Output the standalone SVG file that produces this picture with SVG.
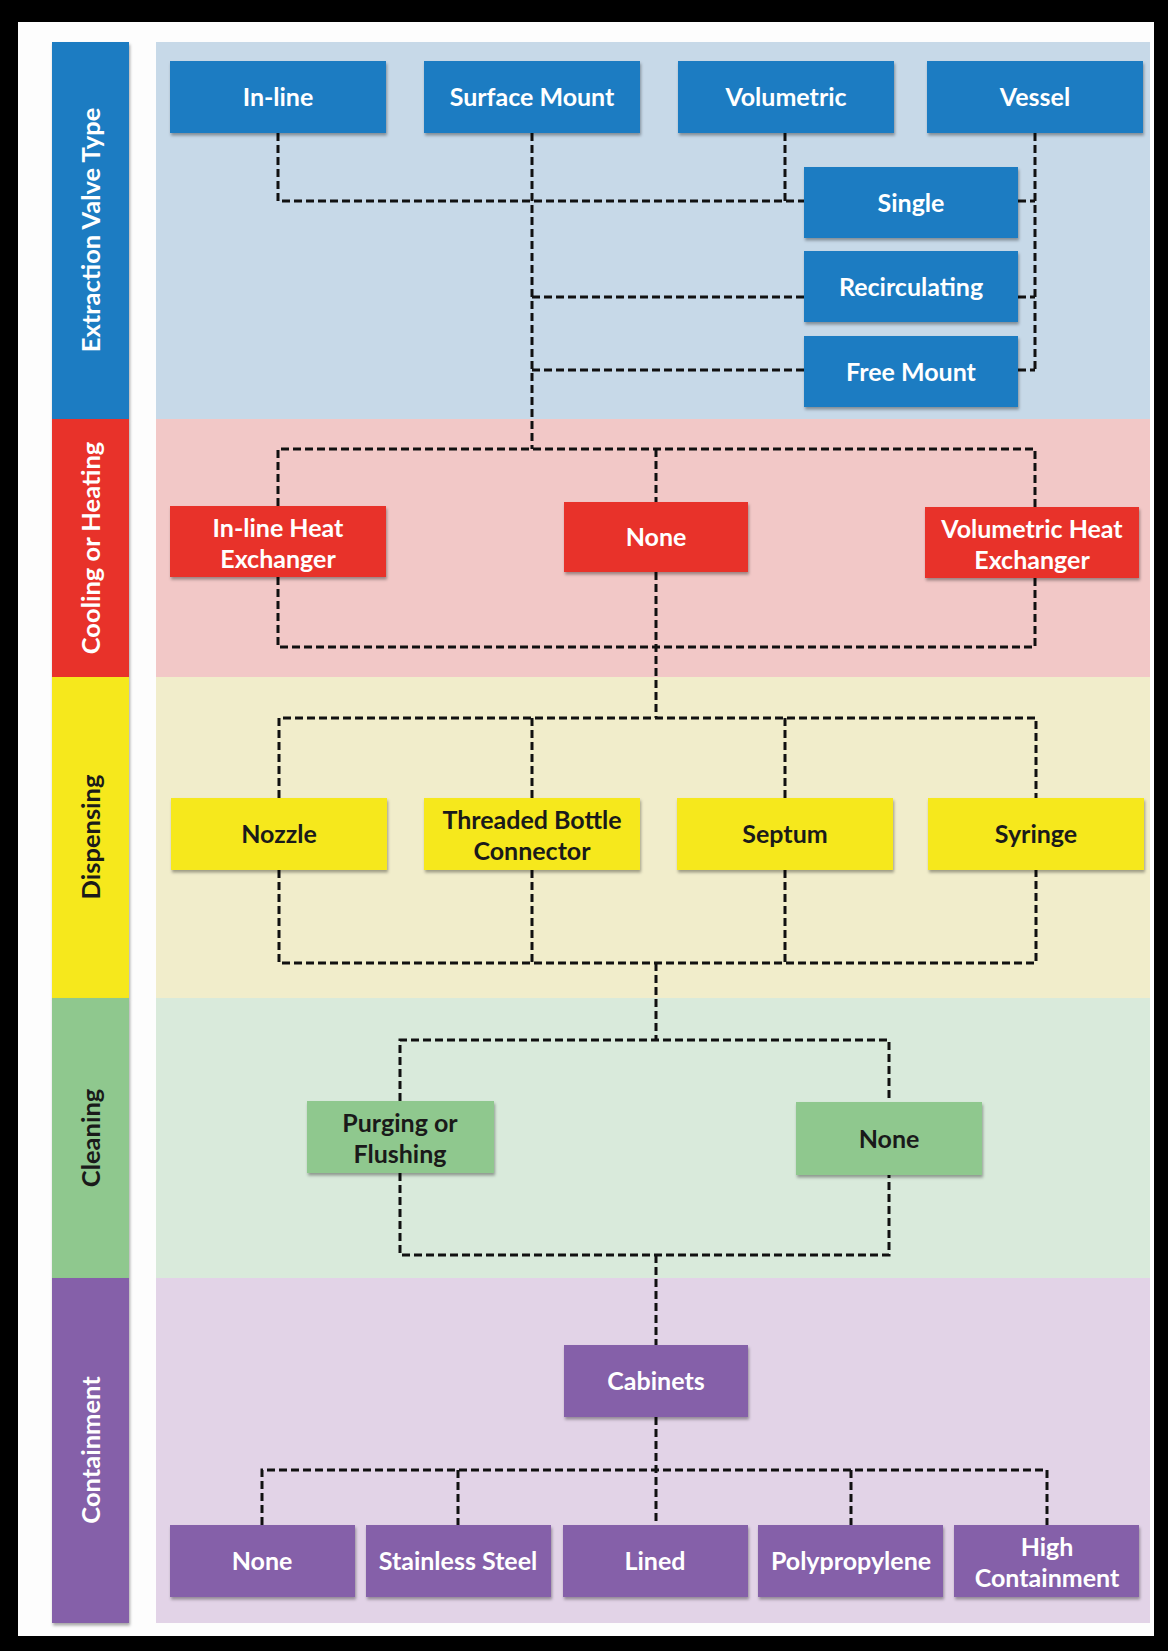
<svg xmlns="http://www.w3.org/2000/svg" width="1168" height="1651" viewBox="0 0 1168 1651">
<defs>
<filter id="sh" x="-10%" y="-10%" width="120%" height="130%">
<feDropShadow dx="1" dy="2.5" stdDeviation="1.5" flood-color="#000" flood-opacity="0.35"/>
</filter>
<style>
.t{font-family:Lato,"Open Sans","Liberation Sans",sans-serif;font-weight:700;font-size:25px;text-anchor:middle}
.lt{font-family:Lato,"Open Sans","Liberation Sans",sans-serif;font-weight:700;font-size:25.5px;text-anchor:middle}
.w{fill:#ffffff}
.k{fill:#1a1a1a}
.bl{fill:#1b7bc2}
.rd{fill:#e8332b}
.yl{fill:#f6e81a}
.gr{fill:#8fc88e}
.pu{fill:#8560a9}
.node rect{filter:url(#sh)}
.conn path{fill:none;stroke:#111;stroke-width:3;stroke-dasharray:8 4}
</style>
</defs>
<rect x="0" y="0" width="1168" height="1651" fill="#000"/>
<rect x="18" y="22" width="1136" height="1614" fill="#fdfdfd"/>
<g id="bands">
<rect x="156" y="42" width="994" height="377" fill="#c7d9e8"/>
<rect x="156" y="419" width="994" height="258" fill="#f2c8c7"/>
<rect x="156" y="677" width="994" height="321" fill="#f1edcb"/>
<rect x="156" y="998" width="994" height="280" fill="#d9eadb"/>
<rect x="156" y="1278" width="994" height="345" fill="#e2d3e7"/>
</g>
<g id="section-labels">
<g id="lbl-extraction" class="node"><rect class="bl" x="52" y="42" width="77" height="377"/><text class="lt w" x="100" y="230" transform="rotate(-90 100 230)">Extraction Valve Type</text></g>
<g id="lbl-cooling" class="node"><rect class="rd" x="52" y="419" width="77" height="258"/><text class="lt w" x="100" y="548" transform="rotate(-90 100 548)">Cooling or Heating</text></g>
<g id="lbl-dispensing" class="node"><rect class="yl" x="52" y="677" width="77" height="321"/><text class="lt k" x="100" y="837" transform="rotate(-90 100 837)">Dispensing</text></g>
<g id="lbl-cleaning" class="node"><rect class="gr" x="52" y="998" width="77" height="280"/><text class="lt k" x="100" y="1138" transform="rotate(-90 100 1138)">Cleaning</text></g>
<g id="lbl-containment" class="node"><rect class="pu" x="52" y="1278" width="77" height="345"/><text class="lt w" x="100" y="1450" transform="rotate(-90 100 1450)">Containment</text></g>
</g>
<g id="connectors" class="conn">
<path d="M278,133 V201 H804"/>
<path d="M785,133 V201"/>
<path d="M532,133 V449"/>
<path d="M532,297 H804"/>
<path d="M532,370 H804"/>
<path d="M1035,133 V370"/>
<path d="M1018,201 H1035"/>
<path d="M1018,297 H1035"/>
<path d="M1018,370 H1035"/>
<path d="M278,506 V449 H1035 V507"/>
<path d="M656,449 V502"/>
<path d="M278,577 V647 H1035 V578"/>
<path d="M656,572 V718"/>
<path d="M279,798 V718 H1036 V798"/>
<path d="M532,718 V798"/>
<path d="M785,718 V798"/>
<path d="M279,870 V963 H1036 V870"/>
<path d="M532,870 V963"/>
<path d="M785,870 V963"/>
<path d="M656,963 V1040"/>
<path d="M400,1101 V1040 H889 V1102"/>
<path d="M400,1173 V1255 H889 V1175"/>
<path d="M656,1255 V1345"/>
<path d="M656,1417 V1525"/>
<path d="M262,1525 V1470 H1047 V1525"/>
<path d="M458,1470 V1525"/>
<path d="M851,1470 V1525"/>
</g>
<g id="n-inline" class="node"><rect class="bl" x="170" y="61" width="216" height="72"/><text class="t w" x="278" y="106">In-line</text></g>
<g id="n-surface" class="node"><rect class="bl" x="424" y="61" width="216" height="72"/><text class="t w" x="532" y="106">Surface Mount</text></g>
<g id="n-volumetric" class="node"><rect class="bl" x="678" y="61" width="216" height="72"/><text class="t w" x="786" y="106">Volumetric</text></g>
<g id="n-vessel" class="node"><rect class="bl" x="927" y="61" width="216" height="72"/><text class="t w" x="1035" y="106">Vessel</text></g>
<g id="n-single" class="node"><rect class="bl" x="804" y="167" width="214" height="71"/><text class="t w" x="911" y="212">Single</text></g>
<g id="n-recirc" class="node"><rect class="bl" x="804" y="251" width="214" height="71"/><text class="t w" x="911" y="296">Recirculating</text></g>
<g id="n-freemount" class="node"><rect class="bl" x="804" y="336" width="214" height="71"/><text class="t w" x="911" y="381">Free Mount</text></g>
<g id="n-inline-hx" class="node"><rect class="rd" x="170" y="506" width="216" height="71"/><text class="t w" x="278" y="537">In-line Heat</text><text class="t w" x="278" y="568">Exchanger</text></g>
<g id="n-none-cool" class="node"><rect class="rd" x="564" y="502" width="184" height="70"/><text class="t w" x="656" y="546">None</text></g>
<g id="n-vol-hx" class="node"><rect class="rd" x="925" y="507" width="214" height="71"/><text class="t w" x="1032" y="538">Volumetric Heat</text><text class="t w" x="1032" y="569">Exchanger</text></g>
<g id="n-nozzle" class="node"><rect class="yl" x="171" y="798" width="216" height="72"/><text class="t k" x="279" y="843">Nozzle</text></g>
<g id="n-threaded" class="node"><rect class="yl" x="424" y="798" width="216" height="72"/><text class="t k" x="532" y="829">Threaded Bottle</text><text class="t k" x="532" y="860">Connector</text></g>
<g id="n-septum" class="node"><rect class="yl" x="677" y="798" width="216" height="72"/><text class="t k" x="785" y="843">Septum</text></g>
<g id="n-syringe" class="node"><rect class="yl" x="928" y="798" width="216" height="72"/><text class="t k" x="1036" y="843">Syringe</text></g>
<g id="n-purging" class="node"><rect class="gr" x="307" y="1101" width="187" height="72"/><text class="t k" x="400" y="1132">Purging or</text><text class="t k" x="400" y="1163">Flushing</text></g>
<g id="n-none-clean" class="node"><rect class="gr" x="796" y="1102" width="186" height="73"/><text class="t k" x="889" y="1148">None</text></g>
<g id="n-cabinets" class="node"><rect class="pu" x="564" y="1345" width="184" height="72"/><text class="t w" x="656" y="1390">Cabinets</text></g>
<g id="n-none-cont" class="node"><rect class="pu" x="170" y="1525" width="185" height="72"/><text class="t w" x="262" y="1570">None</text></g>
<g id="n-stainless" class="node"><rect class="pu" x="366" y="1525" width="185" height="72"/><text class="t w" x="458" y="1570">Stainless Steel</text></g>
<g id="n-lined" class="node"><rect class="pu" x="563" y="1525" width="185" height="72"/><text class="t w" x="655" y="1570">Lined</text></g>
<g id="n-poly" class="node"><rect class="pu" x="758" y="1525" width="185" height="72"/><text class="t w" x="851" y="1570">Polypropylene</text></g>
<g id="n-high" class="node"><rect class="pu" x="954" y="1525" width="185" height="72"/><text class="t w" x="1047" y="1556">High</text><text class="t w" x="1047" y="1587">Containment</text></g>
</svg>
